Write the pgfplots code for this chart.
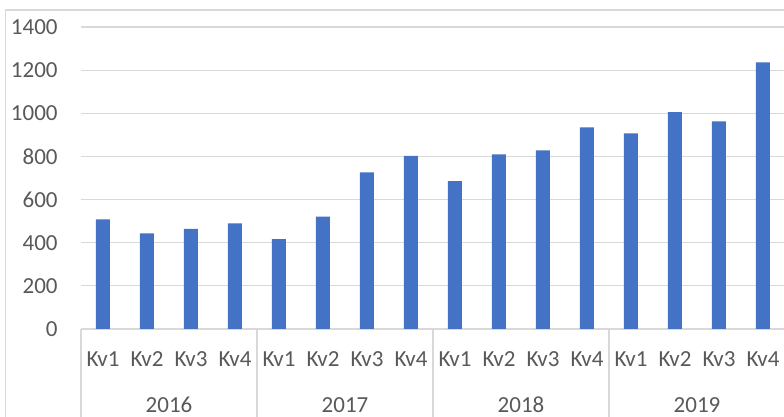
\documentclass[border=0pt]{standalone}
\usepackage{pgfplots}
\pgfplotsset{compat=1.18}
\usepackage{fontspec}
\setmainfont{Carlito}
\definecolor{barblue}{HTML}{4472C4}
\definecolor{gridgray}{HTML}{D9D9D9}
\definecolor{txtgray}{HTML}{595959}
\begin{document}
\begin{tikzpicture}
\path[use as bounding box] (0,0) rectangle (392pt,208.5pt);
\begin{scope}
\clip (0,0) rectangle (392pt,208.5pt);
\draw[gridgray, line width=0.6pt] (2.75pt,-5pt) -- (2.75pt,203.5pt) -- (400pt,203.5pt);
\begin{axis}[
  at={(40.5pt,44pt)}, anchor=south west,
  scale only axis, width=352pt, height=151pt,
  xmin=-0.5, xmax=15.5, ymin=0, ymax=1400,
  ytick={0,200,...,1400},
  ymajorgrids, grid style={gridgray, line width=0.6pt},
  axis y line*=left,
  y axis line style={draw=none},
  axis x line*=bottom,
  x axis line style={gridgray, line width=0.6pt, -},
  major tick length=0pt,
  xtick={0,...,15},
  xticklabels={Kv1,Kv2,Kv3,Kv4,Kv1,Kv2,Kv3,Kv4,Kv1,Kv2,Kv3,Kv4,Kv1,Kv2,Kv3,Kv4},
  xticklabel style={anchor=center, inner sep=0pt, yshift=-15pt},
  extra x ticks={1.5,5.5,9.5,13.5},
  extra x tick labels={2016,2017,2018,2019},
  extra x tick style={grid=none, xticklabel style={yshift=-23pt}},
  yticklabel style={anchor=east, inner sep=0pt, xshift=-11.5pt},
  tick label style={font=\fontsize{11.5pt}{13pt}\selectfont, text=txtgray},
  /pgf/number format/assume math mode=true,
  /pgf/number format/1000 sep={},
  ybar, bar width=7pt,
  clip=false,
]
\addplot[fill=barblue, draw=none] coordinates {
(0,508) (1,443) (2,464) (3,490)
(4,417) (5,521) (6,726) (7,802)
(8,686) (9,810) (10,828) (11,935)
(12,907) (13,1005) (14,963) (15,1236)
};
\foreach \xx in {-0.5,3.5,7.5,11.5,15.5} {
  \edef\tmp{\noexpand\draw[gridgray, line width=0.6pt] (axis cs:\xx,0) -- ([yshift=-50pt]axis cs:\xx,0);}
  \tmp
}
\end{axis}
\end{scope}
\end{tikzpicture}
\end{document}
